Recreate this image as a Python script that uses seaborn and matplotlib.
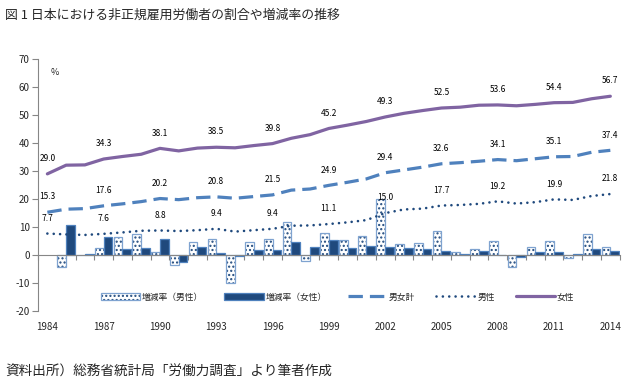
import numpy as np
import pandas as pd
import seaborn as sns
import matplotlib
matplotlib.use('Agg')
import matplotlib.pyplot as plt
import matplotlib.colors as mcolors
from matplotlib.patches import Patch
from matplotlib.lines import Line2D

# データ（割合 %）
years = list(range(1984, 2015))
total = [15.3, 16.4, 16.6, 17.6, 18.3, 19.1, 20.2, 19.8, 20.5, 20.8, 20.3, 20.9, 21.5,
         23.2, 23.6, 24.9, 26.0, 27.2, 29.4, 30.4, 31.4, 32.6, 33.0, 33.5, 34.1, 33.7,
         34.4, 35.1, 35.2, 36.7, 37.4]
male = [7.7, 7.4, 7.2, 7.6, 8.1, 8.7, 8.8, 8.6, 8.9, 9.4, 8.4, 8.9, 9.4,
        10.5, 10.6, 11.1, 11.7, 12.5, 15.0, 16.3, 16.6, 17.7, 17.9, 18.3, 19.2, 18.4,
        18.9, 19.9, 19.7, 21.1, 21.8]
female = [29.0, 32.1, 32.2, 34.3, 35.2, 36.0, 38.1, 37.2, 38.2, 38.5, 38.3, 39.1, 39.8,
          41.7, 43.0, 45.2, 46.4, 47.7, 49.3, 50.6, 51.6, 52.5, 52.8, 53.5, 53.6, 53.3,
          53.8, 54.4, 54.5, 55.8, 56.7]

# 増減率（1985〜2014）
rate_years = years[1:]
rate_male = [-4.1, 0.0, 2.7, 6.5, 7.5, 1.1, -3.6, 4.6, 5.6, -9.9, 4.6, 5.6, 11.7, -2.1,
             7.8, 5.4, 6.8, 20.1, 4.0, 4.5, 8.6, 1.0, 2.1, 4.9, -4.2, 2.8, 5.2, -1.0,
             7.6, 2.9]
rate_female = [10.7, 0.3, 6.5, 2.2, 2.5, 5.8, -2.5, 2.9, 0.6, -0.2, 1.8, 1.8, 4.8, 2.9,
               5.3, 2.6, 3.2, 2.9, 2.6, 2.1, 1.5, 0.5, 1.3, 0.1, -0.6, 1.0, 1.1, 0.4,
               2.3, 1.5]

label_years = years[::3]

navy = '#1F497D'
blue = '#4F81BD'
light = '#7FA3D0'
purple = '#8064A2'
gray = '#868686'

sns.set_theme(style='white')
plt.rcParams['font.family'] = ['Noto Sans CJK JP', 'DejaVu Sans']
plt.rcParams['axes.unicode_minus'] = False

fig = plt.figure(figsize=(6.33, 3.88), dpi=100)
ax = fig.add_axes([0.060, 0.198, 0.919, 0.650])

# 棒グラフ（増減率）
hue_m = '増減率（男性）'
hue_f = '増減率（女性）'
bars = pd.DataFrame({
    'year': [str(y) for y in rate_years] * 2,
    'rate': rate_male + rate_female,
    'sex': [hue_m] * len(rate_years) + [hue_f] * len(rate_years),
})
sns.barplot(data=bars, x='year', y='rate', hue='sex',
            order=[str(y) for y in years], hue_order=[hue_m, hue_f],
            palette=['white', navy], saturation=1, width=0.93,
            linewidth=0.9, legend=False, ax=ax)

for p in ax.containers[0]:
    p.set_edgecolor(light)
    p.set_hatch('....')
    p._hatch_color = mcolors.to_rgba(navy)
for p in ax.containers[1]:
    p.set_edgecolor(blue)

# 折れ線
x = np.arange(len(years))
sns.lineplot(x=x, y=total, color=blue, lw=2.3, linestyle=(0, (4.5, 2.2)), ax=ax)
sns.lineplot(x=x, y=male, color=navy, lw=1.9, linestyle=(0, (0.01, 2.4)),
             dash_capstyle='round', ax=ax)
sns.lineplot(x=x, y=female, color=purple, lw=2.3, ax=ax)

# データラベル
for i, yr in enumerate(years):
    if yr in label_years:
        for series in (total, male, female):
            ax.annotate(f'{series[i]:.1f}', (i, series[i]), xytext=(0, 11),
                        textcoords='offset points', ha='center', va='center',
                        fontsize=6, color='black')

ax.text(0.4, 65, '%', fontsize=6.5, ha='center', va='center')

# 軸
ax.set_xlim(-0.5, len(years) - 0.5)
ax.set_ylim(-20, 70)
ax.set_yticks(range(-20, 71, 10))
ax.set_xticks([years.index(y) for y in label_years])
ax.set_xticklabels([str(y) for y in label_years])
ax.set_xticks(np.arange(-0.5, len(years), 1), minor=True)
ax.set_xlabel('')
ax.set_ylabel('')

for s in ['top', 'right']:
    ax.spines[s].set_visible(False)
ax.spines['bottom'].set_position(('data', 0))
ax.spines['bottom'].set_color(gray)
ax.spines['bottom'].set_linewidth(0.8)
ax.spines['left'].set_color(gray)
ax.spines['left'].set_linewidth(0.8)

ax.tick_params(axis='y', left=True, length=4, width=0.8, color=gray,
               labelsize=7, pad=2)
ax.tick_params(axis='x', which='major', bottom=True, length=0, labelsize=7, pad=48)
ax.tick_params(axis='x', which='minor', bottom=True, length=3.5, width=0.8, color=gray)

# 凡例
h1 = Patch(facecolor='white', edgecolor=light, hatch='....', linewidth=0.9)
h2 = Patch(facecolor=navy, edgecolor=blue, linewidth=0.9)
h3 = Line2D([], [], color=blue, lw=2.3, linestyle=(0, (4.5, 2.2)))
h4 = Line2D([], [], color=navy, lw=1.9, linestyle=(0, (0.01, 2.4)), dash_capstyle='round')
h5 = Line2D([], [], color=purple, lw=2.3)
leg = ax.legend([h1, h2, h3, h4, h5], [hue_m, hue_f, '男女計', '男性', '女性'],
                loc='center', bbox_to_anchor=(0.515, 0.056), ncol=5, frameon=False,
                fontsize=6.3, handlelength=4.5, handleheight=0.7,
                handletextpad=0.2, columnspacing=2.4)
leg.legend_handles[0]._hatch_color = mcolors.to_rgba(navy)

fig.text(0.008, 0.961, '図 1 日本における非正規雇用労働者の割合や増減率の推移',
         fontsize=9.3, ha='left', va='center')
fig.text(0.008, 0.041, '資料出所）総務省統計局「労働力調査」より筆者作成',
         fontsize=9.8, ha='left', va='center')

fig.savefig('out.png', dpi=100)
